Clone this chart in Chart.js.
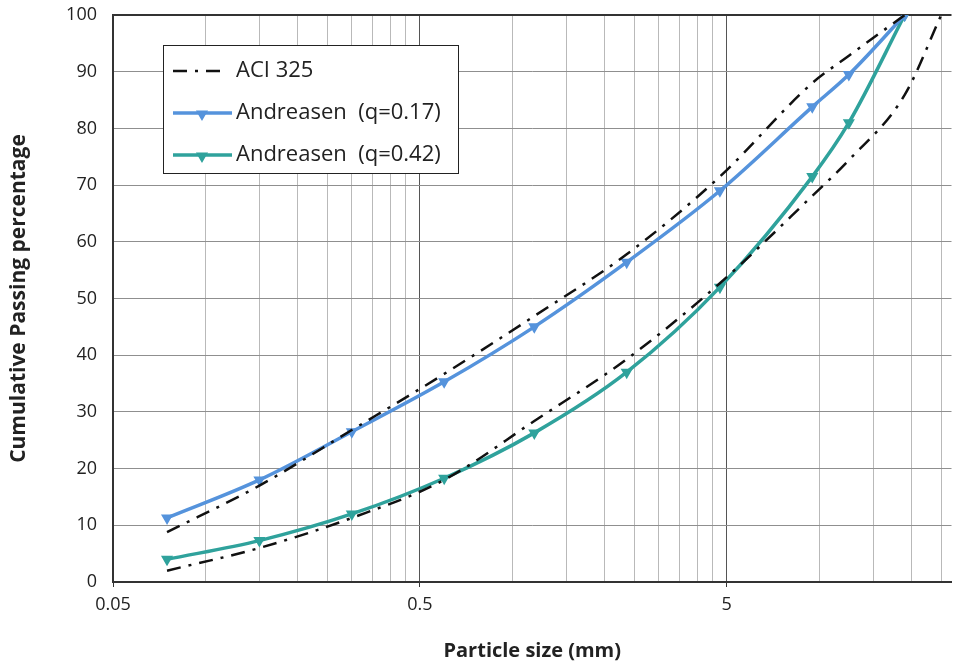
<!DOCTYPE html>
<html>
<head>
<meta charset="utf-8">
<script src="https://cdn.jsdelivr.net/npm/chart.js@4"></script>
<style>
  html, body { margin: 0; padding: 0; background: #fff; }
  #wrap { width: 959px; height: 664px; }
</style>
</head>
<body>
<div id="wrap"><canvas id="gradingChart" width="959" height="664"></canvas></div>
<script>
// sieve sizes (mm) and passing percentages
var sieveSizes = [0.075, 0.15, 0.3, 0.6, 1.18, 2.36, 4.75, 9.5, 12.5, 19];
var andreasen017 = [11.3, 18, 26.5, 35.3, 45, 56.4, 69, 83.8, 89.5, 100];
var andreasen042 = [4, 7.3, 12, 18.3, 26.3, 37, 52, 71.5, 81, 100];

var aciUpperSizes = [0.075, 0.15, 0.3, 0.6, 1.18, 2.36, 4.75, 9.5, 12.5, 19];
var aciUpper = [8.8, 17, 26.8, 36.7, 46.9, 57.8, 71.5, 88, 92.8, 100];
var aciLowerSizes = [0.075, 0.15, 0.3, 0.6, 1.18, 2.36, 4.75, 9.5, 12.5, 19, 25];
var aciLower = [2, 6, 11.3, 18, 28.4, 39.3, 52.7, 68.1, 74.4, 85.9, 100];

// axis ticks
var xGridValues = [0.05, 0.1, 0.15, 0.2, 0.25, 0.3, 0.35, 0.4, 0.45, 0.5,
                   1, 1.5, 2, 2.5, 3, 3.5, 4, 4.5, 5, 10, 15, 20, 25];
var xTickLabels = [0.05, 0.5, 5];
var yTickValues = [0, 10, 20, 30, 40, 50, 60, 70, 80, 90, 100];

function toPoints(xs, ys) {
    return xs.map(function (x, i) { return { x: x, y: ys[i] }; });
}

var blue = '#5593dc';
var teal = '#2fa29c';
var fontFamily = '"Open Sans", Lato, sans-serif';

// legend drawn inside the plot, like the original
var legendBox = {
    id: 'legendBox',
    afterDraw: function (chart) {
        var ctx = chart.ctx;
        var x0 = 163, y0 = 45, w = 295, h = 128;
        ctx.save();
        ctx.fillStyle = '#fff';
        ctx.fillRect(x0, y0, w, h);
        ctx.strokeStyle = '#222';
        ctx.lineWidth = 1;
        ctx.strokeRect(x0 + 0.5, y0 + 0.5, w, h);

        var rows = chart.data.datasets.filter(function (d) { return !d.hideInLegend; });
        rows.forEach(function (ds, i) {
            var cy = 71 + i * 42;
            ctx.strokeStyle = ds.borderColor;
            ctx.lineWidth = ds.borderWidth;
            ctx.setLineDash(ds.borderDash || []);
            ctx.beginPath();
            ctx.moveTo(173, cy);
            ctx.lineTo(ds.borderDash ? 222 : 232, cy);
            ctx.stroke();
            ctx.setLineDash([]);
            if (ds.pointRadius) {
                Chart.helpers.drawPoint(ctx, {
                    pointStyle: 'triangle', rotation: 180, radius: 3.5, borderWidth: 1
                }, 202, cy + 1);
                ctx.fillStyle = ds.borderColor;
                ctx.fill();
            }
            ctx.fillStyle = '#222';
            ctx.font = '22px ' + fontFamily;
            ctx.textBaseline = 'middle';
            ctx.fillText(ds.label, 236, cy);
        });
        ctx.restore();
    }
};

var ctxGrading = document.getElementById('gradingChart').getContext('2d');
new Chart(ctxGrading, {
    type: 'line',
    data: {
        datasets: [{
            label: 'ACI 325',
            data: toPoints(aciUpperSizes, aciUpper),
            borderColor: '#111',
            borderWidth: 2.5,
            borderDash: [14, 8, 3, 8],
            pointRadius: 0,
            cubicInterpolationMode: 'monotone'
        }, {
            label: 'ACI 325',
            hideInLegend: true,
            data: toPoints(aciLowerSizes, aciLower),
            borderColor: '#111',
            borderWidth: 2.5,
            borderDash: [14, 8, 3, 8],
            pointRadius: 0,
            cubicInterpolationMode: 'monotone'
        }, {
            label: 'Andreasen  (q=0.17)',
            data: toPoints(sieveSizes, andreasen017),
            borderColor: blue,
            backgroundColor: blue,
            borderWidth: 3.5,
            pointStyle: 'triangle',
            pointRotation: 180,
            pointRadius: 3.5,
            cubicInterpolationMode: 'monotone'
        }, {
            label: 'Andreasen  (q=0.42)',
            data: toPoints(sieveSizes, andreasen042),
            borderColor: teal,
            backgroundColor: teal,
            borderWidth: 3.5,
            pointStyle: 'triangle',
            pointRotation: 180,
            pointRadius: 3.5,
            cubicInterpolationMode: 'monotone'
        }]
    },
    options: {
        responsive: false,
        animation: false,
        layout: { padding: { top: 15, right: 0, left: 0, bottom: 0 } },
        plugins: {
            legend: { display: false },
            tooltip: { enabled: false }
        },
        scales: {
            x: {
                type: 'logarithmic',
                min: 0.05,
                max: 27,
                afterBuildTicks: function (axis) {
                    axis.ticks = xGridValues.map(function (v) { return { value: v }; });
                },
                afterFit: function (axis) {
                    axis.height = 82;
                    axis.paddingLeft = 0;
                    axis.paddingRight = 0;
                },
                ticks: {
                    autoSkip: false,
                    maxRotation: 0,
                    padding: 7,
                    color: '#222',
                    font: { family: fontFamily, size: 18 },
                    callback: function (value) {
                        return xTickLabels.indexOf(value) >= 0 ? String(value) : '';
                    }
                },
                grid: {
                    color: function (c) {
                        var v = c.tick && c.tick.value;
                        return (v === 0.5 || v === 5) ? '#555' : '#b9b9b9';
                    },
                    tickColor: function (c) {
                        var v = c.tick && c.tick.value;
                        return xTickLabels.indexOf(v) >= 0 ? '#333' : 'rgba(0,0,0,0)';
                    },
                    tickLength: 5
                },
                border: { color: '#333', width: 2 },
                title: {
                    display: true,
                    text: 'Particle size (mm)',
                    color: '#222',
                    font: { family: fontFamily, size: 20, weight: 'bold' },
                    padding: { top: 0, bottom: 1 }
                }
            },
            y: {
                min: 0,
                max: 100,
                afterBuildTicks: function (axis) {
                    axis.ticks = yTickValues.map(function (v) { return { value: v }; });
                },
                afterFit: function (axis) {
                    axis.width = 113;
                    axis.paddingTop = 0;
                    axis.paddingBottom = 0;
                },
                ticks: {
                    padding: 16,
                    color: '#222',
                    font: { family: fontFamily, size: 18 }
                },
                grid: {
                    color: function (c) {
                        return c.tick && c.tick.value === 100 ? '#333' : '#8f8f8f';
                    },
                    lineWidth: function (c) {
                        return c.tick && c.tick.value === 100 ? 2 : 1;
                    },
                    drawTicks: false
                },
                border: { color: '#333', width: 2 },
                title: {
                    display: true,
                    text: 'Cumulative Passing percentage',
                    color: '#222',
                    font: { family: fontFamily, size: 21, weight: 'bold' },
                    padding: { top: 6, bottom: 0 }
                }
            }
        }
    },
    plugins: [legendBox]
});
</script>
</body>
</html>
